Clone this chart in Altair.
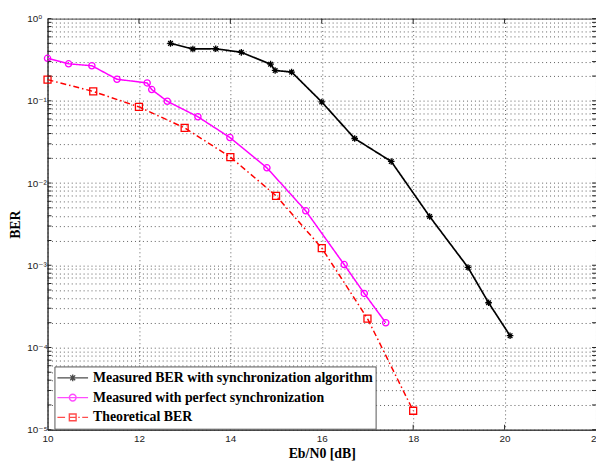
import altair as alt
import pandas as pd

SERIES = [
    "Measured BER with synchronization algorithm",
    "Measured with perfect synchronization",
    "Theoretical BER",
]
COLORS = ["#000000", "#ff00ff", "#ff0000"]

sync_ebn0 = [12.69, 13.18, 13.68, 14.24, 14.88, 14.98, 15.34, 16.0, 16.72, 17.52, 18.36, 19.20, 19.65, 20.12]
sync_ber = [0.50, 0.427, 0.43, 0.389, 0.279, 0.234, 0.224, 0.0968, 0.0348, 0.0183, 0.00392, 9.4e-4, 3.5e-4, 1.39e-4]

perfect_ebn0 = [10.0, 10.46, 10.97, 11.52, 12.18, 12.28, 12.62, 13.29, 13.99, 14.80, 15.65, 16.49, 16.93, 17.40]
perfect_ber = [0.329, 0.282, 0.267, 0.183, 0.165, 0.137, 0.0987, 0.064, 0.0358, 0.0153, 0.00459, 1.02e-3, 4.54e-4, 2.0e-4]

theory_ebn0 = [10, 11, 12, 13, 14, 15, 16, 17, 18]
theory_ber = [0.181, 0.13, 0.0843, 0.0468, 0.0207, 0.007, 1.62e-3, 2.25e-4, 1.7e-5]

x_ticks = [10, 12, 14, 16, 18, 20, 22]
y_major = [1e-5, 1e-4, 1e-3, 1e-2, 1e-1, 1.0]
y_minor = [m * 10.0 ** k for k in range(-5, 0) for m in range(2, 10)]

rows = []
for name, xs, ys in zip(SERIES, [sync_ebn0, perfect_ebn0, theory_ebn0], [sync_ber, perfect_ber, theory_ber]):
    for i, (xv, yv) in enumerate(zip(xs, ys)):
        rows.append({"series": name, "ebn0": xv, "ber": yv, "idx": i})
df = pd.DataFrame(rows)

ytick_df = pd.DataFrame({"ber": y_major + y_minor})
xtick_df = pd.DataFrame({"ebn0": x_ticks[1:-1]})

label_expr = (
    "datum.value == 1 ? '10⁰' : datum.value == 0.1 ? '10⁻¹' : "
    "datum.value == 0.01 ? '10⁻²' : datum.value == 0.001 ? '10⁻³' : "
    "datum.value == 0.0001 ? '10⁻⁴' : datum.value == 0.00001 ? '10⁻⁵' : ''"
)

SANS = "Liberation Sans, Arial, DejaVu Sans"
SERIF = "Liberation Serif, Times New Roman, serif"

x_scale = alt.Scale(domain=[10, 22], nice=False, zero=False)
y_scale = alt.Scale(type="log", domain=[1e-5, 1], nice=False)

x_enc = alt.X(
    "ebn0:Q",
    scale=x_scale,
    axis=alt.Axis(
        values=x_ticks, title="Eb/N0 [dB]", labelFlush=False, ticks=False, tickSize=0,
        labelPadding=4, labelFont=SANS, labelFontSize=10, labelColor="#222",
        titleFont=SERIF, titleFontWeight="bold", titleFontSize=14, titleColor="#000",
        titleY=28, titleBaseline="alphabetic",
        grid=True, gridDash=[1, 3], gridColor="#333", gridOpacity=0.8,
        domainColor="#333",
    ),
)
y_enc = alt.Y(
    "ber:Q",
    scale=y_scale,
    axis=alt.Axis(
        values=y_major + y_minor, labelExpr=label_expr, labelOverlap=False,
        labelAlign="left", labelBaseline="middle", labelPadding=21, ticks=False, tickSize=0,
        labelFont=SANS, labelFontSize=10, labelColor="#222",
        title="BER", titleFont=SERIF, titleFontWeight="bold", titleFontSize=14, titleColor="#000",
        titleAngle=270, titleX=-32, titleY=208, titleBaseline="middle", titleAlign="center",
        grid=True, gridDash=[1, 3], gridColor="#333", gridOpacity=0.8,
        domainColor="#333",
    ),
)

color_scale = alt.Scale(domain=SERIES, range=COLORS)

LEG_BLACK = "M-1,0H1M-0.22,0H0.22M0,-0.22V0.22M-0.16,-0.16L0.16,0.16M-0.16,0.16L0.16,-0.16"
LEG_MAG = "M-1,0H1M0.22,0A0.22,0.22 0 1,1 -0.22,0A0.22,0.22 0 1,1 0.22,0"
LEG_RED = "M-1,0H-0.5M-0.22,0H0.22M-0.22,-0.22H0.22V0.22H-0.22ZM0.36,0H0.46M0.62,0H1"

legend_cfg = dict(
    title=None, orient="none", legendX=7, legendY=352,
    fillColor="white", strokeColor="#555", padding=2,
    labelFont=SERIF, labelFontWeight="bold", labelFontSize=14, labelColor="#000",
    labelLimit=500, labelOffset=4, symbolSize=961, symbolStrokeWidth=1.4,
    clipHeight=19, rowPadding=1,
)

# Legend-only layer (no visible marks), placed first so its legend definition wins
legend_layer = alt.Chart(df).transform_filter("false").mark_point(filled=False, strokeWidth=1.4).encode(
    x=x_enc,
    y=y_enc,
    color=alt.Color("series:N", scale=color_scale, legend=alt.Legend(**legend_cfg)),
    shape=alt.Shape(
        "series:N",
        scale=alt.Scale(domain=SERIES, range=[LEG_BLACK, LEG_MAG, LEG_RED]),
        legend=alt.Legend(**legend_cfg),
    ),
)

dashes = [[1, 0], [1, 0], [6, 3, 1.5, 3]]
widths = [1.7, 1.5, 1.5]
ASTERISK = "M-1,0H1M0,-1V1M-0.7,-0.7L0.7,0.7M-0.7,0.7L0.7,-0.7"
marker_shapes = [ASTERISK, "circle", "square"]
marker_sizes = [45, 40, 50]

data_layers = []
for name, dash, w in zip(SERIES, dashes, widths):
    data_layers.append(
        alt.Chart(df).transform_filter(alt.datum.series == name)
        .mark_line(strokeWidth=w, strokeDash=dash)
        .encode(x=x_enc, y=y_enc, order="idx:Q",
                color=alt.Color("series:N", scale=color_scale, legend=None))
    )
for name, shp, sz in zip(SERIES, marker_shapes, marker_sizes):
    data_layers.append(
        alt.Chart(df).transform_filter(alt.datum.series == name)
        .mark_point(shape=shp, filled=False, size=sz, strokeWidth=1.3, opacity=1)
        .encode(x=x_enc, y=y_enc, color=alt.Color("series:N", scale=color_scale, legend=None))
    )

# inward tick marks (MATLAB style) on all four sides
tick_layers = [
    alt.Chart(ytick_df).mark_rule(color="#222", strokeWidth=1).encode(
        y=y_enc, x=alt.value(0), x2=alt.value(4)),
    alt.Chart(ytick_df).mark_rule(color="#222", strokeWidth=1).encode(
        y=y_enc, x=alt.value(551), x2=alt.value(555)),
    alt.Chart(xtick_df).mark_rule(color="#222", strokeWidth=1).encode(
        x=x_enc, y=alt.value(416), y2=alt.value(411)),
    alt.Chart(xtick_df).mark_rule(color="#222", strokeWidth=1).encode(
        x=x_enc, y=alt.value(0), y2=alt.value(5)),
]

chart = alt.layer(legend_layer, *data_layers, *tick_layers).properties(
    width=555, height=416,
    autosize=alt.AutoSizeParams(type="none"),
    padding={"left": 40, "top": 8, "right": 0, "bottom": 34},
    background="white",
).configure_view(stroke="#444", strokeWidth=1)

chart.save("out.html", embed_options={"renderer": "svg", "actions": False})
